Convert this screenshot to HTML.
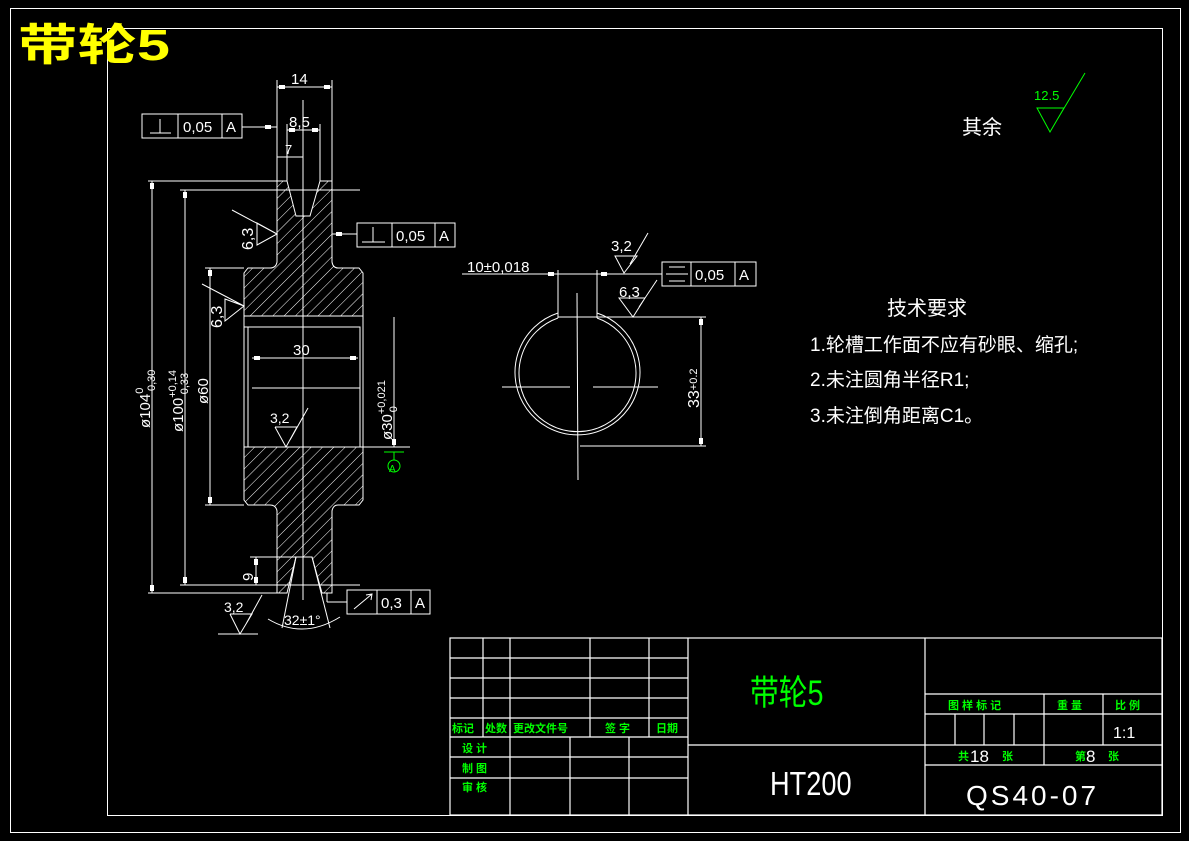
<!DOCTYPE html>
<html><head><meta charset="utf-8"><style>
html,body{margin:0;padding:0;background:#000;}
svg{display:block;}
text{font-family:"Liberation Sans","Noto Sans CJK SC",sans-serif;}
</style></head><body>
<svg width="1189" height="841" viewBox="0 0 1189 841" xmlns="http://www.w3.org/2000/svg">
<defs>
<pattern id="h" patternUnits="userSpaceOnUse" width="8" height="8" patternTransform="rotate(45)">
<line x1="0" y1="0" x2="0" y2="8" stroke="#fff" stroke-width="1"/>
</pattern>
</defs>
<rect width="1189" height="841" fill="#000"/>
<rect x="10.5" y="8.5" width="1170" height="824" fill="none" stroke="#fff" stroke-width="1"/>
<rect x="107.5" y="28.5" width="1055" height="787" fill="none" stroke="#fff" stroke-width="1"/>
<text x="18" y="60" font-size="44" font-weight="bold" fill="#ffff00" textLength="152" lengthAdjust="spacingAndGlyphs" font-family="'Liberation Sans','Noto Sans CJK SC',sans-serif">带轮5</text>

<g stroke="#fff" stroke-width="1" fill="none">
<path d="M277,181 L287,181 L296,216 L310,216 L320,181 L332,181 L332,262 Q333,268 338,268 L359,268 L363,273 L363,316 L244,316 L244,273 L248,268 L270,268 Q276,268 277,262 Z" fill="url(#h)"/>
<path d="M244,447 L363,447 L363,500 L359,505 L338,505 Q333,505 332,511 L332,593 L322,593 L312,557 L296,557 L287,593 L277,593 L277,511 Q276,505 270,505 L248,505 L244,500 Z" fill="url(#h)"/>
<line x1="244" y1="316" x2="244" y2="447"/><line x1="363" y1="316" x2="363" y2="447"/>
<rect x="248" y="327" width="112" height="120"/>
<line x1="244" y1="327" x2="248" y2="327"/>
<line x1="252" y1="388" x2="360" y2="388"/>
<line x1="303" y1="100" x2="303" y2="600"/>
<line x1="277" y1="181" x2="277" y2="80"/><line x1="332" y1="181" x2="332" y2="80"/>
<line x1="277" y1="87" x2="332" y2="87"/>
<line x1="287" y1="181" x2="287" y2="124"/><line x1="320" y1="181" x2="320" y2="124"/>
<line x1="287" y1="130" x2="320" y2="130"/>
<line x1="277" y1="157" x2="303" y2="157"/>
<line x1="148" y1="181" x2="283" y2="181"/><line x1="180" y1="190" x2="360" y2="190"/>
<line x1="205" y1="268" x2="244" y2="268"/><line x1="205" y1="505" x2="244" y2="505"/>
<line x1="180" y1="585" x2="360" y2="585"/><line x1="148" y1="593" x2="283" y2="593"/>
<line x1="152" y1="181" x2="152" y2="593"/><line x1="185" y1="190" x2="185" y2="585"/>
<line x1="210" y1="268" x2="210" y2="505"/>
<line x1="252" y1="358" x2="358" y2="358"/>
<line x1="394" y1="317" x2="394" y2="447"/><line x1="363" y1="447" x2="410" y2="447"/>
<line x1="250" y1="557" x2="300" y2="557"/><line x1="256" y1="557" x2="256" y2="585"/>
<rect x="142" y="114" width="100" height="24"/><line x1="178" y1="114" x2="178" y2="138"/><line x1="222" y1="114" x2="222" y2="138"/>
<line x1="242" y1="127" x2="277" y2="127"/>
<path d="M150,133 H171 M160,133 V119"/>
<rect x="357" y="223" width="98" height="24"/><line x1="392" y1="223" x2="392" y2="247"/><line x1="435" y1="223" x2="435" y2="247"/>
<line x1="332" y1="234" x2="357" y2="234"/>
<path d="M362,242 H385 M373,242 V227"/>
<rect x="347" y="590" width="83" height="24"/><line x1="377" y1="590" x2="377" y2="614"/><line x1="411" y1="590" x2="411" y2="614"/>
<line x1="327" y1="602" x2="347" y2="602"/><line x1="327" y1="602" x2="327" y2="593"/>
<path d="M354,609 L372,594 M366,595 L372,594 L371,600"/>
<path d="M232,210 L277,234 L257,245 L257,223 L277,234"/>
<path d="M202,284 L244,306 L225,321 L225,299 L244,306"/>
<path d="M275,427 L297,427 L286,447 L275,427 M290,440 L308,408"/>
<path d="M230,614 L252,614 L240,634 L230,614 M246,624 L262,595 M218,634 L258,634"/>
<line x1="384" y1="452" x2="404" y2="452" stroke="#0f0"/><line x1="394" y1="452" x2="394" y2="460" stroke="#0f0"/>
<circle cx="394" cy="466" r="6" stroke="#0f0"/>
<path d="M268,619 Q303,640 340,617"/>
<line x1="296" y1="557" x2="282" y2="628"/><line x1="312" y1="557" x2="330" y2="628"/>
</g>
<g fill="#fff">
<rect x="150" y="183" width="4" height="6"/><rect x="150" y="585" width="4" height="6"/>
<rect x="183" y="192" width="4" height="6"/><rect x="183" y="577" width="4" height="6"/>
<rect x="208" y="270" width="4" height="6"/><rect x="208" y="497" width="4" height="6"/>
<rect x="392" y="439" width="4" height="6"/>
<rect x="699" y="319" width="4" height="6"/><rect x="699" y="438" width="4" height="6"/>
<rect x="254" y="559" width="4" height="6"/><rect x="254" y="577" width="4" height="6"/>
<rect x="279" y="85" width="6" height="4"/><rect x="324" y="85" width="6" height="4"/>
<rect x="289" y="128" width="6" height="4"/><rect x="312" y="128" width="6" height="4"/>
<rect x="254" y="356" width="6" height="4"/><rect x="350" y="356" width="6" height="4"/>
<rect x="265" y="125" width="6" height="4"/><rect x="336" y="232" width="6" height="4"/>
<rect x="548" y="272" width="6" height="4"/><rect x="601" y="272" width="6" height="4"/>
</g>
<g fill="#fff" font-size="15">
<text x="291" y="84">14</text>
<text x="289" y="127">8,5</text>
<text x="285" y="154" font-size="13">7</text>
<text x="183" y="132">0,05</text><text x="226" y="132">A</text>
<text x="396" y="241">0,05</text><text x="439" y="241">A</text>
<text x="381" y="608">0,3</text><text x="415" y="608">A</text>
<text x="293" y="355">30</text>
<text x="270" y="423" font-size="14">3,2</text>
<text x="224" y="612" font-size="14">3,2</text>
<text x="284" y="625" font-size="14">32±1°</text>
<text transform="translate(253,250) rotate(-90)" font-size="16">6,3</text>
<text transform="translate(222,328) rotate(-90)" font-size="16">6,3</text>
<text transform="translate(150,428) rotate(-90)" font-size="15">ø104<tspan dy="-7" font-size="11">0</tspan><tspan dx="-7" dy="12" font-size="11">-0,30</tspan></text>
<text transform="translate(183,432) rotate(-90)" font-size="15">ø100<tspan dy="-7" font-size="11">+0,14</tspan><tspan dx="-28" dy="12" font-size="11">-0,33</tspan></text>
<text transform="translate(208,404) rotate(-90)" font-size="15">ø60</text>
<text transform="translate(392,440) rotate(-90)" font-size="15">ø30<tspan dy="-7" font-size="11">+0,021</tspan><tspan dx="-32" dy="12" font-size="11">0</tspan></text>
<text transform="translate(253,581) rotate(-90)" font-size="15">9</text>
<text x="389" y="472" font-size="10" fill="#0f0">A</text>
</g>

<g stroke="#fff" stroke-width="1" fill="none">
<path d="M558,313 A62.5,62.5 0 1 0 597,313"/>
<path d="M558,318 A58.5,58.5 0 1 0 597,318"/>
<line x1="558" y1="270" x2="558" y2="318"/><line x1="597" y1="270" x2="597" y2="318"/>
<line x1="558" y1="317" x2="706" y2="317"/>
<line x1="580" y1="446" x2="706" y2="446"/>
<line x1="701" y1="317" x2="701" y2="446"/>
<line x1="462" y1="274" x2="662" y2="274"/>
<line x1="502" y1="387" x2="570" y2="387"/><line x1="593" y1="387" x2="658" y2="387"/>
<line x1="577" y1="293" x2="578" y2="480"/>
<rect x="662" y="262" width="94" height="24"/><line x1="691" y1="262" x2="691" y2="286"/><line x1="735" y1="262" x2="735" y2="286"/>
<path d="M669,267 H685 M666,274 H688 M669,281 H685"/>
<path d="M615,256 L637,256 L624,273 Z M630,264 L648,233"/>
<path d="M619,298 L645,298 L633,317 Z M639,307 L657,280"/>
</g>
<g fill="#fff" font-size="15">
<text x="467" y="272">10±0,018</text>
<text x="695" y="280">0,05</text><text x="739" y="280">A</text>
<text x="611" y="251">3,2</text>
<text x="619" y="297">6,3</text>
<text transform="translate(699,408) rotate(-90)" font-size="16">33<tspan font-size="11" dy="-2">+0.2</tspan></text>
</g>

<g fill="#fff">
<text x="962" y="134" font-size="20" font-family="'Noto Serif CJK SC',serif">其余</text>
<text x="887" y="315" font-size="20" font-family="'Noto Serif CJK SC',serif">技术要求</text>
<text x="810" y="351" font-size="19" font-family="'Liberation Serif','Noto Serif CJK SC',serif">1.轮槽工作面不应有砂眼、缩孔;</text>
<text x="810" y="386" font-size="19" font-family="'Liberation Serif','Noto Serif CJK SC',serif">2.未注圆角半径R1;</text>
<text x="810" y="422" font-size="19" font-family="'Liberation Serif','Noto Serif CJK SC',serif">3.未注倒角距离C1。</text>
</g>
<g stroke="#0f0" fill="none"><path d="M1037,108 L1064,108 L1050,132 Z M1057,120 L1085,73"/></g>
<text x="1034" y="100" font-size="13" fill="#0f0">12.5</text>

<g stroke="#fff" stroke-width="1.2" fill="none">
<rect x="450" y="638" width="712" height="177"/>
<line x1="450" y1="658" x2="688" y2="658"/><line x1="450" y1="678" x2="688" y2="678"/>
<line x1="450" y1="698" x2="688" y2="698"/><line x1="450" y1="718" x2="688" y2="718"/>
<line x1="450" y1="737" x2="688" y2="737"/><line x1="450" y1="757" x2="688" y2="757"/>
<line x1="450" y1="778" x2="688" y2="778"/>
<line x1="483" y1="638" x2="483" y2="737"/><line x1="510" y1="638" x2="510" y2="815"/>
<line x1="590" y1="638" x2="590" y2="737"/><line x1="649" y1="638" x2="649" y2="737"/>
<line x1="570" y1="737" x2="570" y2="815"/><line x1="629" y1="737" x2="629" y2="815"/>
<line x1="688" y1="638" x2="688" y2="815"/>
<line x1="925" y1="638" x2="925" y2="815"/>
<line x1="688" y1="745" x2="1162" y2="745"/>
<line x1="925" y1="694" x2="1162" y2="694"/><line x1="925" y1="714" x2="1162" y2="714"/>
<line x1="925" y1="765" x2="1162" y2="765"/>
<line x1="1044" y1="694" x2="1044" y2="765"/><line x1="1103" y1="694" x2="1103" y2="745"/>
<line x1="955" y1="714" x2="955" y2="745"/><line x1="984" y1="714" x2="984" y2="745"/><line x1="1014" y1="714" x2="1014" y2="745"/>
</g>
<g fill="#0f0" font-size="11" font-weight="bold">
<text x="452" y="732">标记</text><text x="485" y="732">处数</text><text x="513" y="732">更改文件号</text>
<text x="605" y="732">签 字</text><text x="656" y="732">日期</text>
<text x="462" y="752">设 计</text><text x="462" y="772">制 图</text><text x="462" y="791">审 核</text>
<text x="948" y="709">图 样 标 记</text><text x="1057" y="709">重 量</text><text x="1115" y="709">比 例</text>
<text x="958" y="760">共</text><text x="1002" y="760">张</text>
<text x="1075" y="760">第</text><text x="1108" y="760">张</text>
</g>
<text x="750" y="705" font-size="32" fill="#0f0" font-family="'Noto Serif CJK SC',serif" transform="translate(750,0) scale(0.9,1.1) translate(-750,-64)">带轮5</text>
<g fill="#fff">
<text x="1113" y="738" font-size="16" font-family="'Liberation Serif',serif">1:1</text>
<text x="970" y="762" font-size="17">18</text>
<text x="1086" y="762" font-size="17">8</text>
<text x="770" y="795" font-size="32" font-family="'Liberation Serif',serif" transform="translate(770,795) scale(0.85,1.05) translate(-770,-795)">HT200</text>
<text x="966" y="805" font-size="28" font-family="'Liberation Sans',sans-serif" letter-spacing="3">QS40-07</text>
</g>
</svg>
</body></html>
